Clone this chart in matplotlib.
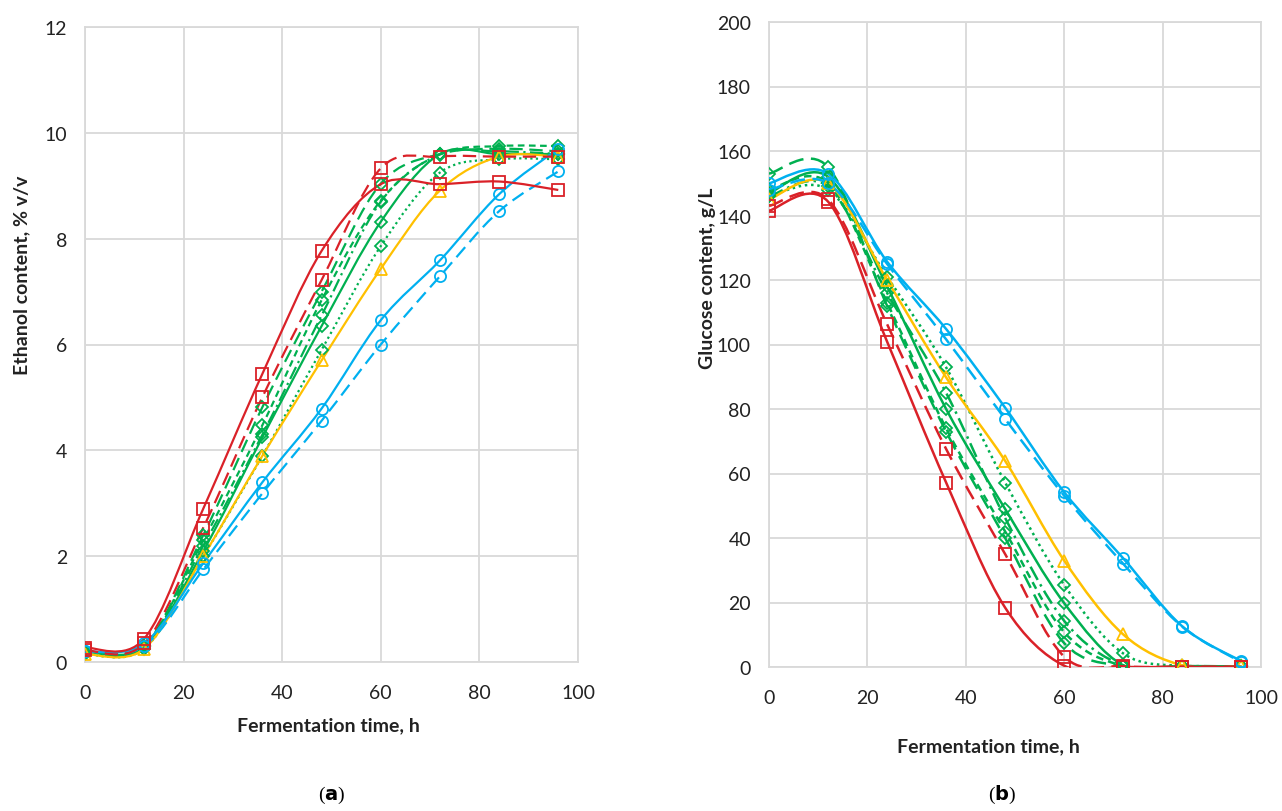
import numpy as np
import matplotlib as mpl
mpl.use('Agg')
import matplotlib.pyplot as plt
from matplotlib.path import Path
from matplotlib.patches import PathPatch

# sampling times, h
t = [0, 12, 24, 36, 48, 60, 72, 84, 96]

# (a) ethanol content, % v/v
eth_red_solid = [0.27, 0.44, 2.90, 5.45, 7.77, 9.03, 9.03, 9.08, 8.92]
eth_red_dash = [0.22, 0.35, 2.54, 5.01, 7.22, 9.33, 9.55, 9.55, 9.55]
eth_yellow = [0.15, 0.25, 2.00, 3.90, 5.70, 7.43, 8.91, 9.55, 9.55]
eth_blue_solid = [0.20, 0.35, 1.87, 3.40, 4.79, 6.46, 7.59, 8.84, 9.70]
eth_blue_dash = [0.20, 0.30, 1.75, 3.19, 4.56, 6.00, 7.29, 8.52, 9.27]
eth_green_solid = [0.20, 0.30, 2.10, 4.25, 6.35, 8.32, 9.60, 9.60, 9.60]
eth_green_dash = [0.20, 0.30, 2.40, 4.82, 7.00, 9.04, 9.60, 9.70, 9.65]
eth_green_sdash = [0.20, 0.30, 2.30, 4.48, 6.84, 8.72, 9.60, 9.75, 9.75]
eth_green_dot = [0.15, 0.25, 2.00, 3.90, 5.90, 7.86, 9.25, 9.50, 9.50]
eth_green_dashdot = [0.20, 0.30, 2.20, 4.30, 6.55, 8.70, 9.59, 9.65, 9.60]

# (b) glucose content, g/L
glu_red_solid = [141.5, 144.3, 100.9, 57.2, 18.4, 0.4, 0.0, 0.0, 0.0]
glu_red_dash = [143.0, 145.0, 106.3, 67.6, 35.0, 3.2, 0.2, 0.1, 0.1]
glu_yellow = [145.0, 150.0, 120.0, 89.8, 63.9, 33.0, 10.1, 0.5, 0.2]
glu_blue_solid = [150.0, 153.0, 125.7, 104.8, 80.4, 54.2, 33.7, 12.6, 1.8]
glu_blue_dash = [148.0, 150.0, 125.0, 101.6, 76.9, 53.1, 32.0, 12.5, 1.5]
glu_green_solid = [147.0, 152.0, 118.0, 80.0, 49.0, 19.8, 0.5, 0.3, 0.2]
glu_green_dash = [153.0, 155.0, 112.0, 73.0, 40.0, 7.4, 0.3, 0.2, 0.2]
glu_green_sdash = [148.0, 150.0, 113.0, 74.0, 42.0, 10.8, 0.3, 0.2, 0.2]
glu_green_dot = [146.0, 148.0, 121.0, 92.9, 57.2, 25.4, 4.2, 0.3, 0.2]
glu_green_dashdot = [146.0, 149.0, 116.0, 85.0, 46.2, 14.3, 0.5, 0.3, 0.2]

red = '#DA2128'
yellow = '#FFC000'
blue = '#00B0F0'
green = '#00B050'
gridc = '#D9D9D9'

plt.rcParams['font.family'] = ['Lato', 'DejaVu Sans']


def smooth_path(x, y):
    # excel style smoothed line: cubic bezier between neighbours
    n = len(x)
    verts = [(x[0], y[0])]
    codes = [Path.MOVETO]
    for i in range(n - 1):
        x0, y0 = (x[i - 1], y[i - 1]) if i > 0 else (x[i], y[i])
        x3, y3 = (x[i + 2], y[i + 2]) if i + 2 < n else (x[i + 1], y[i + 1])
        c1 = (x[i] + (x[i + 1] - x0) / 6.0, y[i] + (y[i + 1] - y0) / 6.0)
        c2 = (x[i + 1] - (x3 - x[i]) / 6.0, y[i + 1] - (y3 - y[i]) / 6.0)
        verts += [c1, c2, (x[i + 1], y[i + 1])]
        codes += [Path.CURVE4] * 3
    return Path(verts, codes)


def draw(ax, y, col, ls, mk, ms, lw=1.6):
    ax.add_patch(PathPatch(smooth_path(t, y), fill=False, edgecolor=col,
                           linestyle=ls, linewidth=lw, zorder=3))
    ax.plot(t, y, linestyle='none', marker=mk, markersize=ms,
            markerfacecolor='none', markeredgecolor=col,
            markeredgewidth=1.3, zorder=4)


def style(ax, ymax, ystep):
    ax.set_xlim(0, 100)
    ax.set_ylim(0, ymax)
    ax.set_xticks(np.arange(0, 101, 20))
    ax.set_yticks(np.arange(0, ymax + 1, ystep))
    ax.grid(True, color=gridc, linewidth=1.3)
    ax.set_axisbelow(True)
    for s in ax.spines.values():
        s.set_color(gridc)
        s.set_linewidth(1.3)
    ax.tick_params(length=0, labelsize=14, colors='#222222')
    ax.tick_params(axis='x', pad=16)
    ax.tick_params(axis='y', pad=13)


fig = plt.figure(figsize=(12.82, 8.12), dpi=100)

ax1 = fig.add_axes([85 / 1282, (812 - 663) / 812, 493 / 1282, 635 / 812])
ax2 = fig.add_axes([769 / 1282, (812 - 668) / 812, 492 / 1282, 645 / 812])

green_styles = [('solid', eth_green_solid, glu_green_solid),
                ((0, (6, 3)), eth_green_dash, glu_green_dash),
                ((0, (3, 2)), eth_green_sdash, glu_green_sdash),
                ((0, (1, 1.5)), eth_green_dot, glu_green_dot),
                ((0, (6, 2, 1, 2)), eth_green_dashdot, glu_green_dashdot)]

for ls, e, g in green_styles:
    draw(ax1, e, green, ls, 'D', 6)
    draw(ax2, g, green, ls, 'D', 6, lw=1.8)

draw(ax1, eth_yellow, yellow, 'solid', '^', 8)
draw(ax1, eth_blue_solid, blue, 'solid', 'o', 8)
draw(ax1, eth_blue_dash, blue, (0, (6, 3)), 'o', 8)
draw(ax1, eth_red_solid, red, 'solid', 's', 8)
draw(ax1, eth_red_dash, red, (0, (6, 3)), 's', 8)

draw(ax2, glu_yellow, yellow, 'solid', '^', 8, lw=1.8)
draw(ax2, glu_blue_solid, blue, 'solid', 'o', 8, lw=1.8)
draw(ax2, glu_blue_dash, blue, (0, (6, 3)), 'o', 8, lw=1.8)
draw(ax2, glu_red_solid, red, 'solid', 's', 8, lw=1.8)
draw(ax2, glu_red_dash, red, (0, (6, 3)), 's', 8, lw=1.8)

style(ax1, 12, 2)
style(ax2, 200, 20)

fig.text(328 / 1282, 1 - 726 / 812, 'Fermentation time, h', ha='center', va='center',
         fontsize=14, fontweight='bold', color='#222222')
fig.text(988 / 1282, 1 - 747 / 812, 'Fermentation time, h', ha='center', va='center',
         fontsize=14, fontweight='bold', color='#222222')
fig.text(22 / 1282, 1 - 275 / 812, 'Ethanol content, % v/v', ha='center', va='center',
         rotation=90, fontsize=14, fontweight='bold', color='#222222')
fig.text(707 / 1282, 1 - 278 / 812, 'Glucose content, g/L', ha='center', va='center',
         rotation=90, fontsize=14, fontweight='bold', color='#222222')

fig.text(332 / 1282, 1 - 795 / 812, r'($\mathbf{a}$)', ha='center', va='center',
         fontsize=14, family='Liberation Serif')
fig.text(1002 / 1282, 1 - 795 / 812, r'($\mathbf{b}$)', ha='center', va='center',
         fontsize=14, family='Liberation Serif')

fig.savefig('out.png', dpi=100)
